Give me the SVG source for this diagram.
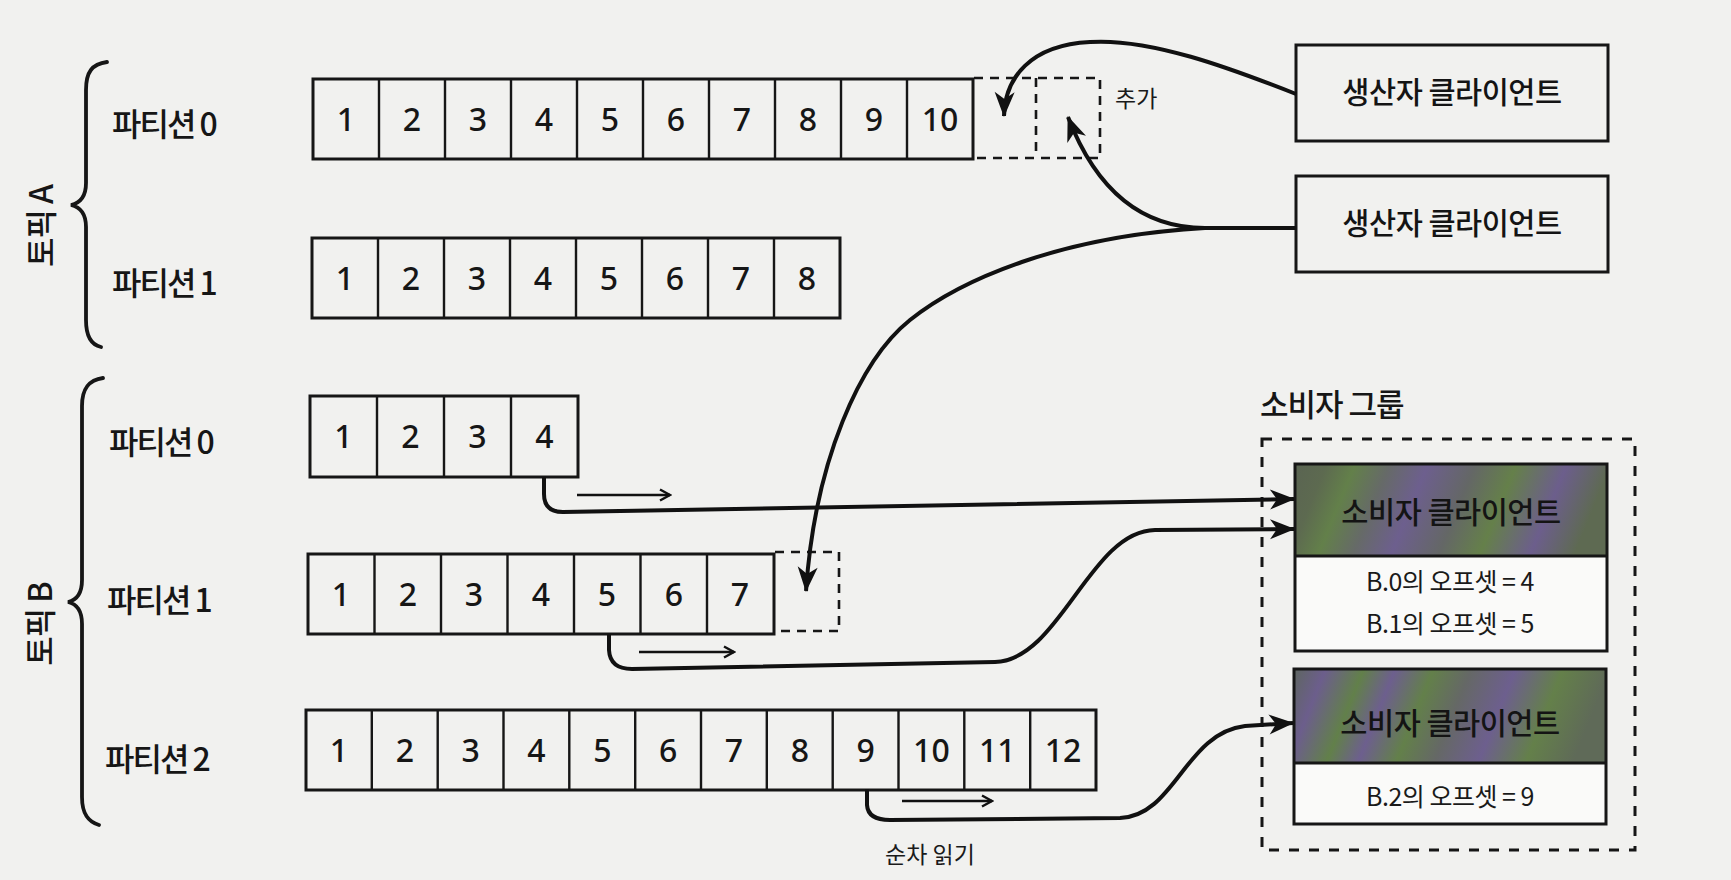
<svg xmlns="http://www.w3.org/2000/svg" width="1731" height="880" viewBox="0 0 1731 880">
<defs>
<style>
.bg{fill:#f1f1ef}
.box{fill:none;stroke:#161616;stroke-width:3}
.dv{stroke:#161616;stroke-width:2.4}
.dash{fill:none;stroke:#161616;stroke-width:2.6;stroke-dasharray:9 7}
.num{font-family:"Noto Sans","Noto Sans CJK KR",sans-serif;font-size:32px;font-weight:500;text-anchor:middle;dominant-baseline:central;fill:#161616}
.lbl{font-family:"Noto Sans CJK KR",sans-serif;font-size:32px;font-weight:500;letter-spacing:-2px;dominant-baseline:central;fill:#161616}
.topic{font-family:"Noto Sans CJK KR",sans-serif;font-size:32px;font-weight:500;letter-spacing:-1px;text-anchor:middle;dominant-baseline:central;fill:#161616}
.cli{font-family:"Noto Sans CJK KR",sans-serif;font-size:29.5px;font-weight:500;letter-spacing:-0.5px;text-anchor:middle;dominant-baseline:central;fill:#141414}
.off{font-family:"Noto Sans CJK KR",sans-serif;font-size:25px;letter-spacing:-0.5px;text-anchor:middle;dominant-baseline:central;fill:#1a1a1a}
.small{font-family:"Noto Sans CJK KR",sans-serif;font-size:23px;dominant-baseline:central;fill:#1a1a1a}
.brace{fill:none;stroke:#161616;stroke-width:3.8;stroke-linecap:round}
.conn{fill:none;stroke:#111;stroke-width:4}
.short{fill:none;stroke:#111;stroke-width:2.4}
</style>
<marker id="ah" viewBox="-26 -12 28 24" markerWidth="28" markerHeight="24" refX="0" refY="0" orient="auto" markerUnits="userSpaceOnUse">
<path d="M1,0 L-24,-10 L-17,0 L-24,10 Z" fill="#111"/>
</marker>
<marker id="oh" viewBox="-12 -8 14 16" markerWidth="14" markerHeight="16" refX="0" refY="0" orient="auto" markerUnits="userSpaceOnUse">
<path d="M-10,-5.5 L0,0 L-10,5.5" fill="none" stroke="#111" stroke-width="2.4"/>
</marker>
<linearGradient id="hg1" x1="0" y1="0" x2="1" y2="0.12">
<stop offset="0" stop-color="#5a6452"/>
<stop offset="0.1" stop-color="#5d6a50"/>
<stop offset="0.19" stop-color="#63804a"/>
<stop offset="0.3" stop-color="#666a68"/>
<stop offset="0.42" stop-color="#6d5f8e"/>
<stop offset="0.57" stop-color="#646766"/>
<stop offset="0.7" stop-color="#65804a"/>
<stop offset="0.86" stop-color="#6c5e8c"/>
<stop offset="1" stop-color="#5e6a52"/>
</linearGradient>
<linearGradient id="hg2" x1="0" y1="0" x2="1" y2="0.12">
<stop offset="0" stop-color="#5e6660"/>
<stop offset="0.1" stop-color="#6c5e8c"/>
<stop offset="0.22" stop-color="#62804a"/>
<stop offset="0.32" stop-color="#6d5f8e"/>
<stop offset="0.44" stop-color="#63804a"/>
<stop offset="0.56" stop-color="#656866"/>
<stop offset="0.7" stop-color="#6d5f8e"/>
<stop offset="0.85" stop-color="#64804a"/>
<stop offset="1" stop-color="#5f6a58"/>
</linearGradient>
</defs>
<rect class="bg" x="0" y="0" width="1731" height="880"/>

<g id="topic-a">
<path class="brace" d="M107,62 C92,64 86,72 86,90 L86,183 C86,196 80,203 71,205 C80,207 86,214 86,227 L86,320 C86,338 92,345 101,347"/>
<text class="topic" transform="translate(39,226) rotate(-90)">토픽 A</text>
</g>

<g id="topic-a-partition-0">
<text class="lbl" x="112" y="122">파티션 0</text>
<rect class="box" x="313" y="79" width="660" height="80"/>
<path class="dv" d="M379,79V159M445,79V159M511,79V159M577,79V159M643,79V159M709,79V159M775,79V159M841,79V159M907,79V159"/>
<text class="num" x="346" y="118">1</text><text class="num" x="412" y="118">2</text><text class="num" x="478" y="118">3</text><text class="num" x="544" y="118">4</text><text class="num" x="610" y="118">5</text><text class="num" x="676" y="118">6</text><text class="num" x="742" y="118">7</text><text class="num" x="808" y="118">8</text><text class="num" x="874" y="118">9</text><text class="num" x="940" y="118">10</text>
<path class="dash" d="M974,78H1100V158H974M1036,78V158"/>
<text class="small" x="1115" y="97">추가</text>
</g>

<g id="topic-a-partition-1">
<text class="lbl" x="112" y="281">파티션 1</text>
<rect class="box" x="312" y="238" width="528" height="80"/>
<path class="dv" d="M378,238V318M444,238V318M510,238V318M576,238V318M642,238V318M708,238V318M774,238V318"/>
<text class="num" x="345" y="277">1</text><text class="num" x="411" y="277">2</text><text class="num" x="477" y="277">3</text><text class="num" x="543" y="277">4</text><text class="num" x="609" y="277">5</text><text class="num" x="675" y="277">6</text><text class="num" x="741" y="277">7</text><text class="num" x="807" y="277">8</text>
</g>

<g id="topic-b">
<path class="brace" d="M103,378 C89,380 82,388 82,406 L82,580 C82,593 77,600 68,602 C77,604 82,611 82,624 L82,797 C82,815 89,822 99,825"/>
<text class="topic" transform="translate(38,624) rotate(-90)">토픽 B</text>
</g>

<g id="topic-b-partition-0">
<text class="lbl" x="109" y="440">파티션 0</text>
<rect class="box" x="310" y="396" width="268" height="81"/>
<path class="dv" d="M377,396V477M444,396V477M511,396V477"/>
<text class="num" x="343.5" y="435">1</text><text class="num" x="410.5" y="435">2</text><text class="num" x="477.5" y="435">3</text><text class="num" x="544.5" y="435">4</text>
</g>

<g id="topic-b-partition-1">
<text class="lbl" x="107" y="598">파티션 1</text>
<rect class="box" x="308" y="554" width="466" height="80"/>
<path class="dv" d="M374.5,554V634M441,554V634M507.5,554V634M574,554V634M640.5,554V634M707,554V634"/>
<text class="num" x="341" y="593">1</text><text class="num" x="408" y="593">2</text><text class="num" x="474" y="593">3</text><text class="num" x="541" y="593">4</text><text class="num" x="607" y="593">5</text><text class="num" x="674" y="593">6</text><text class="num" x="740" y="593">7</text>
<path class="dash" d="M775,552H839V631H775"/>
</g>

<g id="topic-b-partition-2">
<text class="lbl" x="105" y="757">파티션 2</text>
<rect class="box" x="306" y="710" width="790" height="80"/>
<path class="dv" d="M371.8,710V790M437.7,710V790M503.5,710V790M569.3,710V790M635.2,710V790M701,710V790M766.8,710V790M832.7,710V790M898.5,710V790M964.3,710V790M1030.2,710V790"/>
<text class="num" x="338.9" y="749">1</text><text class="num" x="404.8" y="749">2</text><text class="num" x="470.6" y="749">3</text><text class="num" x="536.4" y="749">4</text><text class="num" x="602.3" y="749">5</text><text class="num" x="668.1" y="749">6</text><text class="num" x="733.9" y="749">7</text><text class="num" x="799.8" y="749">8</text><text class="num" x="865.6" y="749">9</text><text class="num" x="931.4" y="749">10</text><text class="num" x="997.3" y="749">11</text><text class="num" x="1063.1" y="749">12</text>
</g>

<g id="producer-1">
<rect class="box" x="1296" y="45" width="312" height="96"/>
<text class="cli" x="1452" y="90">생산자 클라이언트</text>
</g>

<g id="producer-2">
<rect class="box" x="1296" y="176" width="312" height="96"/>
<text class="cli" x="1452" y="221">생산자 클라이언트</text>
</g>

<g id="consumer-group">
<text class="lbl" x="1260" y="402" style="font-size:31px;letter-spacing:-1px">소비자 그룹</text>
<rect x="1262" y="439" width="373" height="411" fill="none" stroke="#161616" stroke-width="3" stroke-dasharray="10 10"/>
</g>

<g id="consumer-1">
<rect x="1295" y="464" width="312" height="187" fill="#fafaf9"/>
<rect x="1295" y="464" width="312" height="92" fill="url(#hg1)"/>
<rect class="box" x="1295" y="464" width="312" height="187"/>
<path class="dv" d="M1295,556H1607" style="stroke-width:3"/>
<text class="cli" x="1451" y="510">소비자 클라이언트</text>
<text class="off" x="1450" y="580">B.0의 오프셋 = 4</text>
<text class="off" x="1450" y="622">B.1의 오프셋 = 5</text>
</g>

<g id="consumer-2">
<rect x="1294" y="669" width="312" height="155" fill="#fafaf9"/>
<rect x="1294" y="669" width="312" height="94" fill="url(#hg2)"/>
<rect class="box" x="1294" y="669" width="312" height="155"/>
<path class="dv" d="M1294,763H1606" style="stroke-width:3"/>
<text class="cli" x="1450" y="721">소비자 클라이언트</text>
<text class="off" x="1450" y="795">B.2의 오프셋 = 9</text>
</g>

<g id="connectors">
<path class="conn" marker-end="url(#ah)" d="M1296,94 C1230,68 1150,38 1090,42 C1030,45 1005,78 1004,116"/>
<path class="conn" marker-end="url(#ah)" d="M1296,228 L1205,228 C1150,228 1100,200 1068,117"/>
<path class="conn" marker-end="url(#ah)" d="M1205,228 C1060,236 960,280 910,320 C860,360 815,460 806,591"/>
<path class="conn" marker-end="url(#ah)" d="M544,477 L544,494 Q544,512 563,512 L1294,499"/>
<path class="conn" marker-end="url(#ah)" d="M609,634 L609,650 Q610,669 632,669 L995,662 C1060,660 1090,531 1155,530 L1294,529"/>
<path class="conn" marker-end="url(#ah)" d="M867,789 L867,805 Q868,820 890,820 L1120,818 C1175,816 1185,733 1245,726 L1293,723"/>
<path class="short" marker-end="url(#oh)" d="M577,495 H670"/>
<path class="short" marker-end="url(#oh)" d="M639,652 H734"/>
<path class="short" marker-end="url(#oh)" d="M902,801 H992"/>
<text class="small" x="930" y="853" text-anchor="middle">순차 읽기</text>
</g>
</svg>
